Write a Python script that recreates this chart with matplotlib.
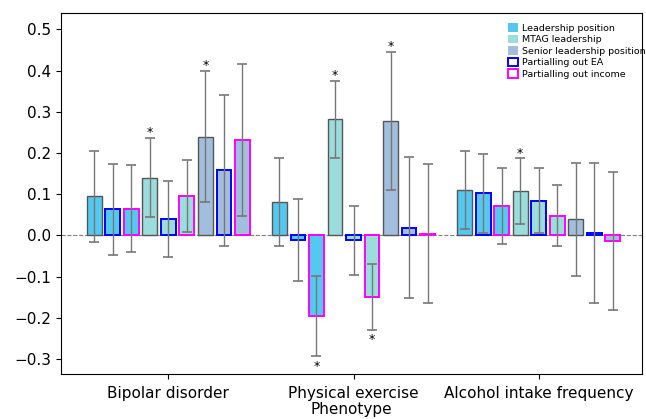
import numpy as np
import matplotlib
matplotlib.use('Agg')
import matplotlib.pyplot as plt
from matplotlib.patches import Patch

categories = ['Bipolar disorder', 'Physical exercise', 'Alcohol intake frequency']

# effect estimates, one list per bar kind (bipolar, exercise, alcohol)
leadership = [0.095, 0.081, 0.110]
leadership_ea = [0.063, -0.011, 0.102]
leadership_inc = [0.065, -0.196, 0.072]
mtag = [0.140, 0.282, 0.107]
mtag_ea = [0.039, -0.012, 0.084]
mtag_inc = [0.096, -0.150, 0.048]
senior = [0.240, 0.278, 0.039]
senior_ea = [0.158, 0.019, 0.006]
senior_inc = [0.232, 0.004, -0.013]

# half widths of the confidence intervals
leadership_err = [0.110, 0.106, 0.094]
leadership_ea_err = [0.110, 0.100, 0.096]
leadership_inc_err = [0.105, 0.098, 0.092]
mtag_err = [0.096, 0.093, 0.080]
mtag_ea_err = [0.092, 0.084, 0.079]
mtag_inc_err = [0.087, 0.080, 0.074]
senior_err = [0.160, 0.168, 0.137]
senior_ea_err = [0.183, 0.172, 0.170]
senior_inc_err = [0.185, 0.169, 0.168]

# significance stars
leadership_sig = [0, 0, 0]
leadership_ea_sig = [0, 0, 0]
leadership_inc_sig = [0, 1, 0]
mtag_sig = [1, 1, 1]
mtag_ea_sig = [0, 0, 0]
mtag_inc_sig = [0, 1, 0]
senior_sig = [1, 1, 0]
senior_ea_sig = [0, 0, 0]
senior_inc_sig = [0, 0, 0]

c_lead = '#55C8F0'
c_mtag = '#9BDCDC'
c_senior = '#A3BEDC'
c_ea = '#0000FF'
c_inc = '#FF00FF'
c_edge = '#555555'

series = [
    (leadership, leadership_err, leadership_sig, c_lead, c_edge),
    (leadership_ea, leadership_ea_err, leadership_ea_sig, c_lead, c_ea),
    (leadership_inc, leadership_inc_err, leadership_inc_sig, c_lead, c_inc),
    (mtag, mtag_err, mtag_sig, c_mtag, c_edge),
    (mtag_ea, mtag_ea_err, mtag_ea_sig, c_mtag, c_ea),
    (mtag_inc, mtag_inc_err, mtag_inc_sig, c_mtag, c_inc),
    (senior, senior_err, senior_sig, c_senior, c_edge),
    (senior_ea, senior_ea_err, senior_ea_sig, c_senior, c_ea),
    (senior_inc, senior_inc_err, senior_inc_sig, c_senior, c_inc),
]

fig = plt.figure(figsize=(6.46, 4.19), dpi=100)
ax = fig.add_axes([0.0944, 0.107, 0.8994, 0.862])

step = 0.1
width = 0.08
r = np.arange(len(categories))

ax.axhline(0, color='gray', ls='--', lw=0.8, zorder=0)

for j, (vals, errs, sig, fc, ec) in enumerate(series):
    x = r + j * step
    lw = 1.0 if ec == c_edge else 1.4
    ax.bar(x, vals, width=width, color=fc, edgecolor=ec, linewidth=lw, zorder=2)
    eb = ax.errorbar(x, vals, yerr=errs, fmt='none', ecolor='#777777',
                     elinewidth=1.0, capsize=3.4, capthick=1.2, zorder=3)
    for cap in eb[1]:
        cap.set_color('#222222')
    # stars just past the end of the interval
    for xi, v, e, s in zip(x, vals, errs, sig):
        if s:
            if v >= 0:
                ax.text(xi, v + e + 0.013, '*', ha='center', va='center', fontsize=9)
            else:
                ax.text(xi, v - e - 0.024, '*', ha='center', va='center', fontsize=9)

ax.set_xlim(-0.18, 2.958)
ax.set_xticks(r + 4 * step)
ax.set_xticklabels(categories, fontsize=11)
ax.tick_params(axis='x', pad=5)
ax.set_xlabel('Phenotype', fontsize=11, labelpad=1)
ax.set_ylim(-0.337, 0.54)
ax.set_yticks(np.arange(-0.3, 0.51, 0.1))
ax.tick_params(axis='y', labelsize=11)

handles = [
    Patch(facecolor=c_lead, edgecolor='none', label='Leadership position'),
    Patch(facecolor=c_mtag, edgecolor='none', label='MTAG leadership'),
    Patch(facecolor=c_senior, edgecolor='none', label='Senior leadership position'),
    Patch(facecolor='none', edgecolor=c_ea, linewidth=1.4, label='Partialling out EA'),
    Patch(facecolor='none', edgecolor=c_inc, linewidth=1.4, label='Partialling out income'),
]
ax.legend(handles=handles, loc='upper left', bbox_to_anchor=(0.77, 0.972),
          frameon=False, fontsize=6.8, handlelength=1.0, handleheight=1.0,
          handletextpad=0.4, labelspacing=0.22, borderpad=0, borderaxespad=0)

fig.savefig('out.png', dpi=100)
